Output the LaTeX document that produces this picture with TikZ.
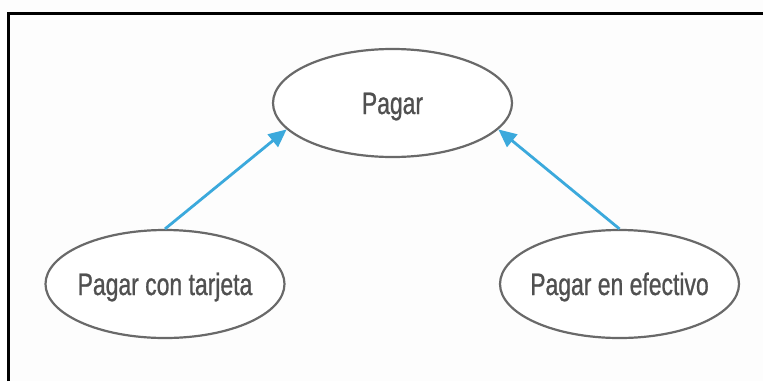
\documentclass[tikz,border=0pt]{standalone}
\usepackage{fontspec}
\setmainfont{Liberation Sans}[FakeStretch=0.74,FakeBold=0.8]
\usetikzlibrary{shapes.geometric,arrows.meta}
\definecolor{pagebg}{RGB}{253,253,253}
\definecolor{outline}{RGB}{105,105,105}
\definecolor{labeltext}{RGB}{80,80,80}
\definecolor{linkblue}{RGB}{59,169,220}
% label whose width does not enlarge the ellipse around it
\newcommand{\uclabel}[1]{\makebox[0pt]{#1}}
\begin{document}
\begin{tikzpicture}[x=1pt,y=-1pt,
  usecase/.style={ellipse, draw=outline, line width=2.2pt, fill=white,
    minimum width=239pt, minimum height=108pt, inner sep=0pt,
    font=\fontsize{31}{31}\selectfont, text=labeltext,
    text height=22pt, text depth=0pt},
  extends/.style={draw=linkblue, line width=2.8pt,
    -{Triangle[length=18pt,width=16pt]}}]
  % page and frame
  \fill[pagebg] (0,0) rectangle (763,381);
  \useasboundingbox (0,0) rectangle (763,381);
  \draw[black, line width=3.2pt] (8.6,381) -- (8.6,13.6) -- (763,13.6);

  % use cases
  \node[usecase] (pagar)    at (392.5,103) {\uclabel{Pagar}};
  \node[usecase] (tarjeta)  at (165,284)   {\uclabel{Pagar con tarjeta}};
  \node[usecase] (efectivo) at (619.5,284) {\uclabel{Pagar en efectivo}};

  % generalisation links
  \draw[extends] (tarjeta.north)  -- (pagar.194);
  \draw[extends] (efectivo.north) -- (pagar.346);
\end{tikzpicture}
\end{document}
